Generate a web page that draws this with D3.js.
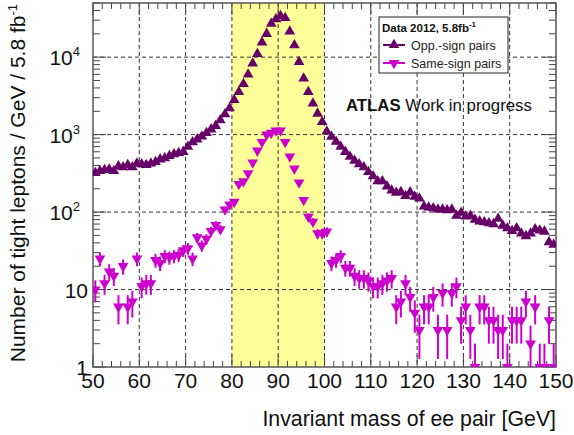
<!DOCTYPE html>
<html>
<head>
<meta charset="utf-8">
<script src="https://cdn.jsdelivr.net/npm/d3@7"></script>
<style>
  body { margin: 0; background: #fff; }
  svg text { font-family: Arial, "Liberation Sans", sans-serif; }
</style>
</head>
<body>
<svg id="chart" width="574" height="435"></svg>
<script>
// bin centres: 1 GeV bins from 50 to 150
var massBins = d3.range(50.5, 150, 1);

// opposite-sign pairs per GeV
var oppSign = [
  320, 340, 350, 355, 340, 390, 380, 405, 380, 425,
  415, 405, 425, 445, 480, 495, 530, 560, 580, 600,
  700, 800, 870, 950, 1050, 1170, 1300, 1540, 1840, 2200,
  2800, 3550, 4500, 6000, 8300, 11000, 15500, 20000, 27000, 31000,
  34000, 32000, 21500, 14300, 8700, 5300, 3550, 2530, 1870, 1460,
  1100, 940, 810, 700, 600, 520, 460, 415, 380, 330,
  290, 250, 250, 215, 190, 178, 182, 162, 180, 158,
  150, 118, 115, 112, 108, 108, 106, 108, 90, 98,
  88, 90, 80, 76, 74, 72, 70, 82, 67, 62,
  57, 62, 53, 49, 53, 60, 58, 56, 41, 38
];

// same-sign pairs per GeV
var sameSign = [
  10, 25, 12, 17, 15, 6, 20, 6, 7, 25,
  11, 12, 12, 24, 22, 27, 26, 27, 28, 32,
  34, 25, 47, 37, 45, 57, 68, 60, 108, 125,
  135, 230, 250, 316, 436, 620, 800, 1000, 1050, 1130,
  1130, 800, 520, 365, 240, 143, 87, 75, 53, 53,
  56, 22, 24, 27, 19, 19, 15, 14, 14, 13,
  11, 11, 12, 13, 14, 6, 7, 12, 8, 5,
  3, 6, 6, 8, 3, 9, 3, 9, 11, 4,
  6, 3, 1, 6, 6, 4, 4, 3, 3, 1,
  4, 4, 4, 7, 2, 6, 1, 1, 4, 1
];

var xTicks = [50, 60, 70, 80, 90, 100, 110, 120, 130, 140, 150];
var yDecades = [1, 10, 100, 1000, 10000];
var zWindow = [80, 100];

var svg = d3.select("#chart");
var pLeft = 93, pRight = 556, pTop = 3, pBottom = 367;

var x = d3.scaleLinear().domain([50, 150]).range([pLeft, pRight]);
var y = d3.scaleLog().domain([1, 5e4]).range([pBottom, pTop]);

svg.append("defs").append("clipPath").attr("id", "plotClip")
  .append("rect")
  .attr("x", pLeft).attr("y", pTop)
  .attr("width", pRight - pLeft).attr("height", pBottom - pTop);

// Z mass window
svg.append("rect")
  .attr("x", x(zWindow[0]))
  .attr("y", pTop)
  .attr("width", x(zWindow[1]) - x(zWindow[0]))
  .attr("height", pBottom - pTop)
  .attr("fill", "#ffff99");

// dashed grid
var grid = svg.append("g").attr("class", "grid");
grid.selectAll("line.gx")
  .data(xTicks.slice(1, -1))
  .enter().append("line")
  .attr("x1", function (d) { return x(d); })
  .attr("x2", function (d) { return x(d); })
  .attr("y1", pTop).attr("y2", pBottom)
  .attr("stroke", "#333").attr("stroke-width", 1)
  .attr("stroke-dasharray", "4,3");
grid.selectAll("line.gy")
  .data(yDecades.slice(1))
  .enter().append("line")
  .attr("x1", pLeft).attr("x2", pRight)
  .attr("y1", function (d) { return y(d); })
  .attr("y2", function (d) { return y(d); })
  .attr("stroke", "#333").attr("stroke-width", 1)
  .attr("stroke-dasharray", "4,3");

// ticks (inside, on all four sides)
var ticks = svg.append("g").attr("stroke", "#444").attr("stroke-width", 1);
var xMinor = d3.range(52, 150, 2).filter(function (d) { return d % 10 != 0; });
xMinor.forEach(function (d) {
  ticks.append("line").attr("x1", x(d)).attr("x2", x(d)).attr("y1", pBottom).attr("y2", pBottom - 6);
  ticks.append("line").attr("x1", x(d)).attr("x2", x(d)).attr("y1", pTop).attr("y2", pTop + 6);
});
xTicks.forEach(function (d) {
  ticks.append("line").attr("x1", x(d)).attr("x2", x(d)).attr("y1", pBottom).attr("y2", pBottom - 12);
  ticks.append("line").attr("x1", x(d)).attr("x2", x(d)).attr("y1", pTop).attr("y2", pTop + 12);
});
var yMinor = [];
yDecades.forEach(function (dec) {
  for (var k = 2; k <= 9; k++) {
    if (k * dec <= 5e4) yMinor.push(k * dec);
  }
});
yMinor.forEach(function (d) {
  ticks.append("line").attr("x1", pLeft).attr("x2", pLeft + 7).attr("y1", y(d)).attr("y2", y(d));
  ticks.append("line").attr("x1", pRight).attr("x2", pRight - 7).attr("y1", y(d)).attr("y2", y(d));
});
yDecades.forEach(function (d) {
  ticks.append("line").attr("x1", pLeft).attr("x2", pLeft + 13).attr("y1", y(d)).attr("y2", y(d));
  ticks.append("line").attr("x1", pRight).attr("x2", pRight - 13).attr("y1", y(d)).attr("y2", y(d));
});

// frame
svg.append("rect")
  .attr("x", pLeft).attr("y", pTop)
  .attr("width", pRight - pLeft).attr("height", pBottom - pTop)
  .attr("fill", "none").attr("stroke", "#555").attr("stroke-width", 1.5);

// data
var plot = svg.append("g").attr("clip-path", "url(#plotClip)");
var triangle = d3.symbol().type(d3.symbolTriangle).size(50);

var ssColor = "#cc00cc", osColor = "#660066";

var ssData = massBins.map(function (m, i) { return { m: m, v: sameSign[i] }; });
var osData = massBins.map(function (m, i) { return { m: m, v: oppSign[i] }; });

// Poisson error bars on same-sign
plot.selectAll("line.err")
  .data(ssData)
  .enter().append("line")
  .attr("x1", function (d) { return x(d.m); })
  .attr("x2", function (d) { return x(d.m); })
  .attr("y1", function (d) {
    var lo = d.v - Math.sqrt(d.v);
    return lo > 0.5 ? y(lo) : pBottom + 5;
  })
  .attr("y2", function (d) { return y(d.v + Math.sqrt(d.v)); })
  .attr("stroke", ssColor).attr("stroke-width", 2);

plot.selectAll("path.ss")
  .data(ssData)
  .enter().append("path")
  .attr("d", triangle)
  .attr("transform", function (d) {
    return "translate(" + x(d.m) + "," + y(d.v) + ") rotate(180)";
  })
  .attr("fill", ssColor);

plot.selectAll("path.os")
  .data(osData)
  .enter().append("path")
  .attr("d", triangle)
  .attr("transform", function (d) {
    return "translate(" + x(d.m) + "," + y(d.v) + ")";
  })
  .attr("fill", osColor);

// tick labels
svg.selectAll("text.xl")
  .data(xTicks)
  .enter().append("text")
  .attr("x", function (d) { return x(d); })
  .attr("y", 388)
  .attr("text-anchor", "middle")
  .attr("font-size", 21)
  .attr("fill", "#111")
  .text(function (d) { return d; });

var yl = svg.selectAll("text.yl")
  .data(yDecades)
  .enter().append("text")
  .attr("x", function (d) { return d >= 100 ? 80 : 88; })
  .attr("y", function (d) { return y(d) + 8; })
  .attr("text-anchor", "end")
  .attr("font-size", 21)
  .attr("fill", "#111");
yl.append("tspan").text(function (d) { return d == 1 ? "1" : "10"; });
yl.filter(function (d) { return d >= 100; })
  .append("tspan")
  .attr("dy", -9)
  .attr("font-size", 13)
  .text(function (d) { return Math.round(Math.log10(d)); });

// axis titles
svg.append("text")
  .attr("x", pRight).attr("y", 426)
  .attr("text-anchor", "end")
  .attr("font-size", 21.3)
  .attr("fill", "#111")
  .text("Invariant mass of ee pair [GeV]");

var yt = svg.append("text")
  .attr("transform", "translate(25," + (pTop + 1) + ") rotate(-90)")
  .attr("text-anchor", "end")
  .attr("font-size", 21)
  .attr("fill", "#111");
yt.append("tspan").text("Number of tight leptons / GeV / 5.8 fb");
yt.append("tspan").attr("dy", -8).attr("font-size", 13).text("-1");

// ATLAS label
var atl = svg.append("text").attr("x", 346).attr("y", 111).attr("font-size", 16.8).attr("fill", "#111");
atl.append("tspan").attr("font-weight", "bold").text("ATLAS");
atl.append("tspan").text(" Work in progress");

// legend
var leg = svg.append("g");
leg.append("rect")
  .attr("x", 379).attr("y", 17).attr("width", 129).attr("height", 56)
  .attr("fill", "#fff").attr("stroke", "#222").attr("stroke-width", 1);
var lt = leg.append("text").attr("x", 382).attr("y", 32).attr("font-size", 11.5)
  .attr("font-weight", "bold").attr("fill", "#111");
lt.append("tspan").text("Data 2012, 5.8fb");
lt.append("tspan").attr("dy", -5).attr("font-size", 8).text("-1");

var legItems = [
  { label: "Opp.-sign pairs", color: osColor, rot: 0, yy: 45 },
  { label: "Same-sign pairs", color: ssColor, rot: 180, yy: 63 }
];
legItems.forEach(function (it) {
  leg.append("line").attr("x1", 383).attr("x2", 405).attr("y1", it.yy).attr("y2", it.yy)
    .attr("stroke", it.color).attr("stroke-width", 2);
  leg.append("path").attr("d", triangle)
    .attr("transform", "translate(394," + it.yy + ") rotate(" + it.rot + ")")
    .attr("fill", it.color);
  leg.append("text").attr("x", 411).attr("y", it.yy + 4.5).attr("font-size", 12.5)
    .attr("fill", "#222").text(it.label);
});
</script>
</body>
</html>
